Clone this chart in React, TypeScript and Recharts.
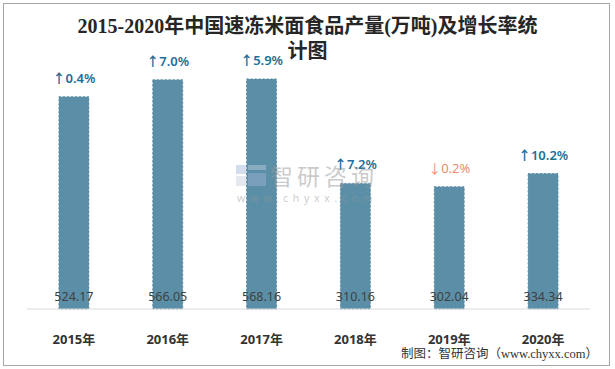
import { BarChart, Bar, XAxis, YAxis, LabelList } from "recharts";

const years = ["2015年", "2016年", "2017年", "2018年", "2019年", "2020年"];
const output = [524.17, 566.05, 568.16, 310.16, 302.04, 334.34];
const growth = [0.4, 7.0, 5.9, 7.2, -0.2, 10.2];

const data = years.map((year, i) => ({ year, output: output[i], growth: growth[i] }));

const FONT = "'Noto Sans', 'Noto Sans CJK SC', sans-serif";
const BASE_Y = 309;

const GrowthLabel = (props: any) => {
  const { x, y, width, index } = props;
  const g = growth[index];
  const up = g >= 0;
  return (
    <text
      x={x + width / 2}
      y={y - 19}
      textAnchor="middle"
      dominantBaseline="central"
      fill={up ? "#1B6F9A" : "#F08A6C"}
      fontSize={13}
      fontWeight={up ? 600 : 400}
      fontFamily={FONT}
    >
      {(up ? "↑" : "↓") + Math.abs(g).toFixed(1) + "%"}
    </text>
  );
};

const ValueLabel = (props: any) => {
  const { x, width, value } = props;
  return (
    <text
      x={x + width / 2}
      y={BASE_Y - 13}
      textAnchor="middle"
      dominantBaseline="central"
      fill="#404040"
      fontSize={12.5}
      fontFamily={FONT}
    >
      {Number(value).toFixed(2)}
    </text>
  );
};

const YearTick = (props: any) => {
  const { x, y, payload } = props;
  return (
    <text
      x={x}
      y={y + 22}
      textAnchor="middle"
      dominantBaseline="central"
      fill="#333"
      fontSize={13}
      fontWeight={700}
      fontFamily={FONT}
    >
      {payload.value}
    </text>
  );
};

export default function App() {
  return (
    <div style={{ position: "absolute", left: 0, top: 0, width: 615, height: 369, background: "#fff" }}>
      <div
        style={{
          position: "absolute",
          left: 3,
          top: 3,
          width: 605,
          height: 361,
          border: "1px solid #a6a6a6",
        }}
      />
      <div
        style={{
          position: "absolute",
          left: 0,
          top: 14,
          width: 615,
          textAlign: "center",
          fontFamily: "'Liberation Serif', 'DejaVu Serif', 'Noto Sans CJK SC', serif",
          fontWeight: 700,
          fontSize: 20,
          lineHeight: "25px",
          color: "#262626",
        }}
      >
        <div>2015-2020年中国速冻米面食品产量(万吨)及增长率统</div>
        <div>计图</div>
      </div>
      <BarChart
        width={615}
        height={369}
        data={data}
        margin={{ top: 66, right: 25, bottom: 30, left: 27 }}
        barCategoryGap="34%"
        style={{ position: "absolute", left: 0, top: 0 }}
      >
        <XAxis
          dataKey="year"
          axisLine={{ stroke: "#d9d9d9" }}
          tickLine={false}
          height={30}
          tick={<YearTick />}
          interval={0}
        />
        <YAxis hide domain={[0, 600]} />
        <Bar
          dataKey="output"
          fill="#5B8FA7"
          stroke="#4E8098"
          strokeDasharray="2 2"
          strokeWidth={0.8}
          isAnimationActive={false}
        >
          <LabelList dataKey="growth" content={<GrowthLabel />} />
          <LabelList dataKey="output" content={<ValueLabel />} />
        </Bar>
      </BarChart>
      <svg
        width={32}
        height={22}
        style={{ position: "absolute", left: 236, top: 165, opacity: 0.45, pointerEvents: "none" }}
      >
        <rect x={0} y={0} width={10} height={9} fill="#9fb4d8" />
        <rect x={12} y={0} width={18} height={5} fill="#c4cfe0" />
        <rect x={0} y={11} width={10} height={10} fill="#c4cfe0" />
        <rect x={12} y={8} width={18} height={13} fill="#9fb4d8" />
      </svg>
      <div
        style={{
          position: "absolute",
          left: 270,
          top: 164,
          whiteSpace: "nowrap",
          fontFamily: "'Noto Sans CJK SC', sans-serif",
          fontSize: 23,
          lineHeight: "23px",
          letterSpacing: 4,
          color: "rgba(150,150,150,0.5)",
          pointerEvents: "none",
        }}
      >
        智研咨询
      </div>
      <div
        style={{
          position: "absolute",
          left: 237,
          top: 193,
          whiteSpace: "nowrap",
          fontFamily: "'Noto Sans', sans-serif",
          fontSize: 10.5,
          lineHeight: "11px",
          letterSpacing: 4.7,
          color: "rgba(150,150,150,0.5)",
          pointerEvents: "none",
        }}
      >
        www.chyxx.com
      </div>
      <div
        style={{
          position: "absolute",
          right: 17,
          top: 345,
          fontFamily: "'Liberation Serif', 'Noto Sans CJK SC', serif",
          fontSize: 12.5,
          lineHeight: "18px",
          color: "#333",
          whiteSpace: "nowrap",
        }}
      >
        制图：智研咨询（www.chyxx.com）
      </div>
    </div>
  );
}
